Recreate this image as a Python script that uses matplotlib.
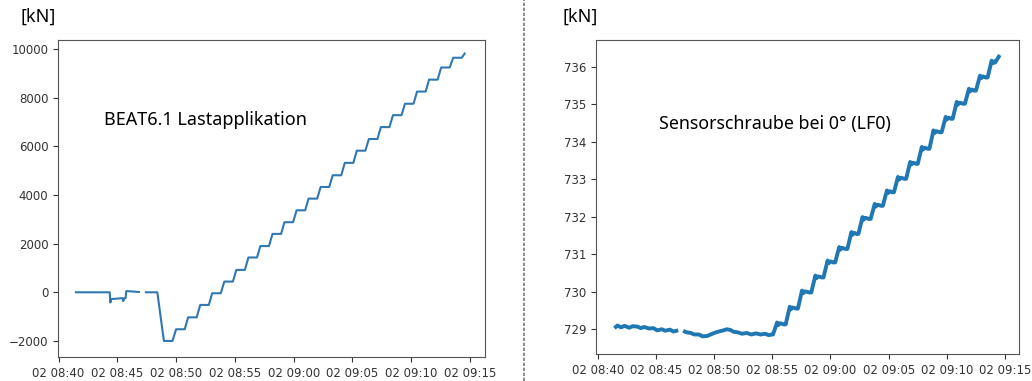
import numpy as np
import pandas as pd
import matplotlib
matplotlib.use("Agg")
import matplotlib.pyplot as plt
import matplotlib.dates as mdates

# time base: minutes after 08:40
t0 = pd.Timestamp("2021-03-02 08:40:00")

# --- left: BEAT6.1 load application [kN] ---
pre_t = [1.39, 4.35, 4.40, 4.48, 5.45, 5.50, 5.58, 5.70, 5.76, 6.92, np.nan, 7.34, 8.40, 8.96]
pre_v = [0, 0, -420, -280, -240, -360, -250, -240, 50, 10, np.nan, 0, 0, -2000]

step_start = [8.96, 10.00, 11.02, 12.05, 13.07, 14.10, 15.12, 16.15, 17.17, 18.20,
              19.22, 20.25, 21.27, 22.30, 23.32, 24.35, 25.37, 26.40, 27.42, 28.45,
              29.47, 30.50, 31.52, 32.55, 33.57]
step_level = [-2000, -1520, -1030, -520, -40, 440, 920, 1430, 1900, 2400,
              2880, 3370, 3850, 4330, 4810, 5320, 5820, 6300, 6790, 7280,
              7750, 8250, 8740, 9240, 9640]
step_hold = 0.73
end_t, end_v = 34.60, 9850

# --- right: sensor screw at 0 deg (LF0) [kN] ---
flat_t = [1.43, 1.7, 2.0, 2.3, 2.7, 3.0, 3.4, 3.7, 4.0, 4.4, 4.8, 5.1, 5.5, 5.8, 6.2, 6.5, 6.92, np.nan,
          7.34, 7.6, 8.0, 8.3, 8.7, 9.0, 9.4, 9.7, 10.0, 10.4, 10.8, 11.1, 11.4, 11.7, 12.0, 12.4,
          12.8, 13.2, 13.6, 14.0, 14.4, 14.7, 14.95]
flat_v = [729.03, 729.10, 729.05, 729.09, 729.04, 729.08, 729.07, 729.03, 729.06, 729.02, 729.03, 728.97,
          729.0, 728.96, 728.99, 728.94, 728.97, np.nan,
          728.96, 728.92, 728.90, 728.86, 728.86, 728.81, 728.82, 728.86, 728.90, 728.94, 728.97,
          729.0, 728.98, 728.93, 728.92, 728.88, 728.90, 728.86, 728.89, 728.86, 728.88, 728.84, 728.86]

rise_t = [15.06, 16.15, 17.20, 18.35, 19.40, 20.40, 21.45, 22.40, 23.45, 24.50,
          25.45, 26.50, 27.50, 28.50, 29.55, 30.50, 31.55, 32.50, 33.50]
rise_v = [729.15, 729.57, 730.00, 730.40, 730.80, 731.16, 731.56, 731.96, 732.31, 732.67,
          733.03, 733.43, 733.83, 734.27, 734.63, 735.03, 735.38, 735.73, 736.13]
r_end_t, r_end_v = 34.55, 736.31
ramp = 0.35


def to_time(minutes):
    return t0 + pd.to_timedelta(np.asarray(minutes, dtype=float), unit="min")


# build left polyline
lt = list(pre_t)
lv = list(pre_v)
for i, (s, v) in enumerate(zip(step_start, step_level)):
    if i > 0:
        lt.append(s)
        lv.append(v)
    lt.append(s + step_hold)
    lv.append(v)
lt.append(end_t)
lv.append(end_v)

# build right polyline (ramp, small bump, settle)
rt = list(flat_t)
rv = list(flat_v)
for i, (s, v) in enumerate(zip(rise_t, rise_v)):
    nxt = rise_t[i + 1] if i + 1 < len(rise_t) else r_end_t - 0.25
    rt += [s, s + ramp, s + ramp + 0.1, s + ramp + 0.25, nxt - 0.15]
    rv += [rv[-1], v + 0.03, v - 0.04, v + 0.01, v - 0.02]
rt.append(r_end_t)
rv.append(r_end_v)

W, H = 1032, 381
fig = plt.figure(figsize=(W / 100, H / 100), dpi=100)

ax1 = fig.add_axes([58 / W, 1 - 357 / H, 427 / W, 317 / H])
ax2 = fig.add_axes([596 / W, 1 - 354 / H, 423 / W, 314 / H])

ax1.plot(to_time(lt), lv, color="#2f78b3", lw=1.5, solid_capstyle="butt")
ax2.plot(to_time(rt), rv, color="#1f77b4", lw=2.8, solid_capstyle="butt")

ax1.set_xlim(to_time(-0.05), to_time(36.28))
ax1.set_ylim(-2660, 10370)
ax1.set_yticks([-2000, 0, 2000, 4000, 6000, 8000, 10000])

ax2.set_xlim(to_time(-0.15), to_time(36.2))
ax2.set_ylim(728.34, 736.71)
ax2.set_yticks([729, 730, 731, 732, 733, 734, 735, 736])

for ax in (ax1, ax2):
    ax.xaxis.set_major_locator(mdates.MinuteLocator(byminute=range(0, 60, 5)))
    ax.xaxis.set_major_formatter(mdates.DateFormatter("%d %H:%M"))
    ax.tick_params(labelsize=8.5, colors="#333333")
    for sp in ax.spines.values():
        sp.set_color("#555555")

fig.text(104 / W, 1 - 120 / H, "BEAT6.1 Lastapplikation",
         family="Noto Sans", fontsize=13, va="center", ha="left")
fig.text(659 / W, 1 - 124 / H, "Sensorschraube bei 0\u00b0 (LF0)",
         family="Noto Sans", fontsize=12.8, va="center", ha="left")

fig.text(20 / W, 1 - 17 / H, "[kN]", family="Noto Sans", fontsize=13, va="center", ha="left")
fig.text(562 / W, 1 - 17 / H, "[kN]", family="Noto Sans", fontsize=13, va="center", ha="left")

fig.add_artist(plt.Line2D([524 / W, 524 / W], [0, 1], transform=fig.transFigure,
                          color="#777777", lw=1.2, ls=(0, (2, 1))))

fig.savefig("out.png", dpi=100)
